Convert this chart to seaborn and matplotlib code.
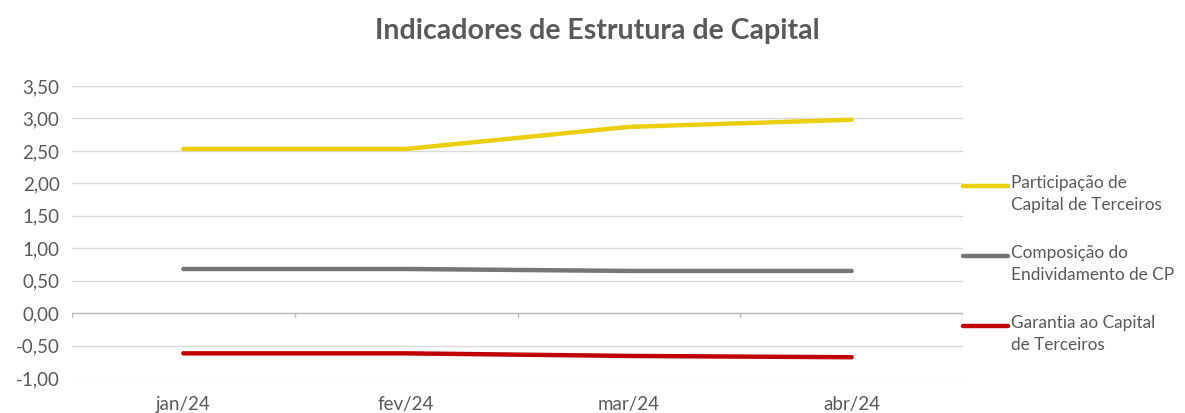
import matplotlib
matplotlib.use("Agg")
import matplotlib.pyplot as plt
import seaborn as sns
import pandas as pd
from matplotlib.lines import Line2D

# Data
months = ["jan/24", "fev/24", "mar/24", "abr/24"]
participacao = [2.53, 2.53, 2.87, 2.98]
composicao = [0.68, 0.68, 0.65, 0.65]
garantia = [-0.62, -0.62, -0.66, -0.68]

series_names = [
    "Participação de\nCapital de Terceiros",
    "Composição do\nEndividamento de CP",
    "Garantia ao Capital\nde Terceiros",
]
colors = ["#EBCF0C", "#767676", "#C00000"]
yticks = [-1.0, -0.5, 0.0, 0.5, 1.0, 1.5, 2.0, 2.5, 3.0, 3.5]

df = pd.DataFrame({
    "month": months * 3,
    "x": list(range(len(months))) * 3,
    "value": participacao + composicao + garantia,
    "series": [s for s in series_names for _ in months],
})

sns.set_theme(style="white")
plt.rcParams["font.family"] = ["Lato", "DejaVu Sans"]
text_color = "#595959"

fig = plt.figure(figsize=(11.85, 4.13), dpi=100)
ax = fig.add_axes([72 / 1185, 1 - 378 / 413, (963 - 72) / 1185, (378 - 86) / 413])

sns.lineplot(data=df, x="x", y="value", hue="series", palette=colors,
             hue_order=series_names, ax=ax, linewidth=3.2, legend=False,
             solid_capstyle="round")

ax.set_xlim(-0.5, len(months) - 0.5)
ax.set_ylim(-1.0, 3.5)
ax.set_yticks(yticks)
ax.set_yticklabels([f"{v:.2f}".replace(".", ",") for v in yticks])
ax.set_xticks(range(len(months)))
ax.set_xticklabels(months)
ax.grid(axis="y", color="#D9D9D9", linewidth=1.0)
ax.set_axisbelow(True)
for s in ax.spines.values():
    s.set_visible(False)
ax.axhline(0, color="#BFBFBF", linewidth=1.0, zorder=1)
for b in [i - 0.5 for i in range(len(months) + 1)]:
    ax.plot([b, b], [0, -0.06], color="#BFBFBF", linewidth=1.0, zorder=1)
ax.tick_params(axis="both", length=0, labelsize=13.5, colors=text_color)
ax.tick_params(axis="y", pad=9)
ax.tick_params(axis="x", pad=13)
ax.set_xlabel("")
ax.set_ylabel("")

fig.suptitle("Indicadores de Estrutura de Capital", x=597 / 1185, y=1 - 18 / 413,
             fontsize=20.5, fontweight="bold", color=text_color, va="top")

# legend drawn at right
legend_y = [186, 256, 326]
for name, c, yy in zip(series_names, colors, legend_y):
    yf = 1 - yy / 413
    fig.add_artist(Line2D([963 / 1185, 1008 / 1185], [yf, yf], color=c,
                          linewidth=3.2, solid_capstyle="round"))
    fig.text(1011 / 1185, 1 - (yy - 11) / 413, name, fontsize=12.4,
             color=text_color, va="top", ha="left", linespacing=1.45)

fig.savefig("out.png", dpi=100)
